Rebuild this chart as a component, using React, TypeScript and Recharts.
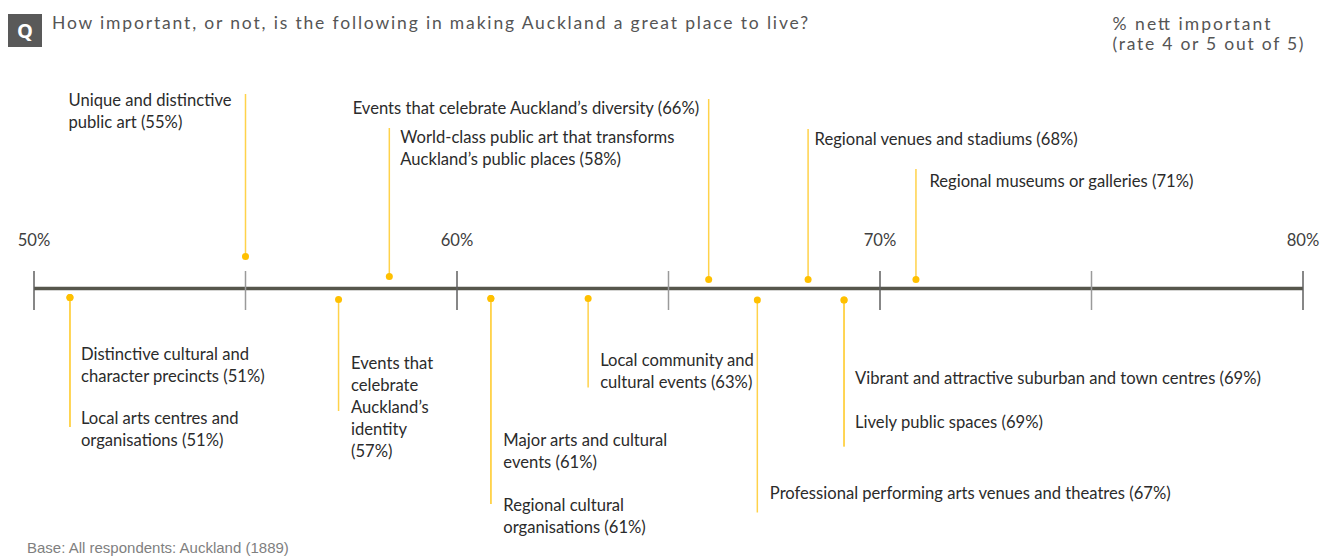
import React from 'react';
import { ScatterChart, Scatter, XAxis, YAxis, ReferenceLine } from 'recharts';

// ---------- DATA ----------
const categories: string[] = [
  'Unique and distinctive\npublic art (55%)',
  'World-class public art that transforms\nAuckland\u2019s public places (58%)',
  'Events that celebrate Auckland\u2019s diversity (66%)',
  'Regional venues and stadiums (68%)',
  'Regional museums or galleries (71%)',
  'Distinctive cultural and\ncharacter precincts (51%)',
  'Local arts centres and\norganisations (51%)',
  'Events that\ncelebrate\nAuckland\u2019s\nidentity\n(57%)',
  'Major arts and cultural\nevents (61%)',
  'Regional cultural\norganisations (61%)',
  'Local community and\ncultural events (63%)',
  'Professional performing arts venues and theatres (67%)',
  'Vibrant and attractive suburban and town centres (69%)',
  'Lively public spaces (69%)',
];
const values: number[] = [55.0, 58.4, 65.95, 68.3, 70.85, 50.85, 50.85, 57.2, 60.8, 60.8, 63.1, 67.1, 69.15, 69.15];
const axisTicks: number[] = [50, 55, 60, 65, 70, 75, 80];
const tickLabels: string[] = ['50%', '', '60%', '', '70%', '', '80%'];

const titleText = 'How important, or not, is the following in making Auckland a great place to live?';
const sideTitle = ['% nett important', '(rate 4 or 5 out of 5)'];
const baseNote = 'Base: All respondents: Auckland (1889)';

// ---------- LAYOUT (pixel offsets relative to the axis line / point) ----------
// dot: dot offset from axis; end: connector end offset from axis; tx: text offset from point x; ty: first baseline offset from axis
const layout = [
  { dot: -32, end: -194.5, tx: -177, ty: -182.5 },
  { dot: -12, end: -160.5, tx: 11, ty: -145.5 },
  { dot: -9, end: -189.5, tx: -356, ty: -174.5 },
  { dot: -9, end: -159.5, tx: 6.5, ty: -143.5 },
  { dot: -9, end: -119.5, tx: 13.5, ty: -101.5 },
  { dot: 9, end: 138.5, tx: 11, ty: 71 },
  { dot: 9, end: 138.5, tx: 11, ty: 135 },
  { dot: 11, end: 122.5, tx: 12.5, ty: 80 },
  { dot: 10, end: 215.5, tx: 12.5, ty: 157 },
  { dot: 10, end: 215.5, tx: 12.5, ty: 222.5 },
  { dot: 10, end: 99, tx: 12, ty: 77.5 },
  { dot: 11.5, end: 224, tx: 12.5, ty: 210 },
  { dot: 11.5, end: 158, tx: 11, ty: 95 },
  { dot: 11.5, end: 158, tx: 11, ty: 139 },
];

const LABEL_FONT = 'Lato, "Noto Sans", sans-serif';
const LABEL_SIZE = 16.6;
const LINE_H = 22;
const YELLOW = '#FFC000';
const CONNECT = '#FFD24A';

const pointData = values.map((v, i) => ({ x: v, y: 0, idx: i }));
const tickData = axisTicks.map((t, i) => ({ x: t, y: 0, idx: i }));

const PointShape = (props: any) => {
  const { cx, cy, payload } = props;
  const i = payload.idx;
  const L = layout[i];
  const lines = categories[i].split('\n');
  const dotY = cy + L.dot;
  const endY = cy + L.end;
  return (
    <g>
      <line x1={cx} x2={cx} y1={dotY} y2={endY} stroke={CONNECT} strokeWidth={1.5} />
      <circle cx={cx} cy={dotY} r={3.5} fill={YELLOW} />
      <text x={cx + L.tx} y={cy + L.ty} fontFamily={LABEL_FONT} fontSize={LABEL_SIZE} fill="#2b2b2b">
        {lines.map((ln, k) => (
          <tspan key={k} x={cx + L.tx} y={cy + L.ty + k * LINE_H}>
            {ln}
          </tspan>
        ))}
      </text>
    </g>
  );
};

const TickShape = (props: any) => {
  const { cx, cy, payload } = props;
  const i = payload.idx;
  const label = tickLabels[i];
  const major = label !== '';
  return (
    <g>
      <line x1={cx} x2={cx} y1={cy - 17.5} y2={cy + 21.5} stroke={major ? '#5f5f5f' : '#9a9a9a'} strokeWidth={1.5} />
      {major && (
        <text x={cx} y={cy - 42.5} textAnchor="middle" fontFamily={LABEL_FONT} fontSize={LABEL_SIZE} fill="#404040">
          {label}
        </text>
      )}
    </g>
  );
};

export default function App() {
  return (
    <div style={{ position: 'fixed', left: 0, top: 0, width: 1335, height: 556, background: '#fff', overflow: 'hidden' }}>
      <ScatterChart width={1335} height={556} margin={{ top: 21, right: 32, bottom: 267.5, left: 34 }}>
        <XAxis type="number" dataKey="x" domain={[50, 80]} hide />
        <YAxis type="number" dataKey="y" domain={[0, 1]} hide />
        <Scatter data={tickData} shape={TickShape} isAnimationActive={false} />
        <ReferenceLine y={0} stroke="#56564c" strokeWidth={3.5} />
        <Scatter data={pointData} shape={PointShape} isAnimationActive={false} />
      </ScatterChart>
      <svg width={1335} height={556} style={{ position: 'absolute', left: 0, top: 0, pointerEvents: 'none' }}>
        <rect x={8} y={14} width={34} height={33} fill="#595959" />
        <text x={25} y={38} textAnchor="middle" fontFamily='"Open Sans", sans-serif' fontWeight={700} fontSize={20} fill="#fff">
          Q
        </text>
        <text x={52} y={29} fontFamily={LABEL_FONT} fontSize={17.5} fill="#555555" textLength={756} lengthAdjust="spacing">
          {titleText}
        </text>
        <text x={1112.5} y={30} fontFamily={LABEL_FONT} fontSize={17.5} fill="#555555" textLength={158} lengthAdjust="spacing">
          {sideTitle[0]}
        </text>
        <text x={1112.5} y={50} fontFamily={LABEL_FONT} fontSize={17.5} fill="#555555" textLength={191} lengthAdjust="spacing">
          {sideTitle[1]}
        </text>
        <text x={27} y={553} fontFamily='"Liberation Sans", Arial, sans-serif' fontSize={15} fill="#7f7f7f">
          {baseNote}
        </text>
      </svg>
    </div>
  );
}
